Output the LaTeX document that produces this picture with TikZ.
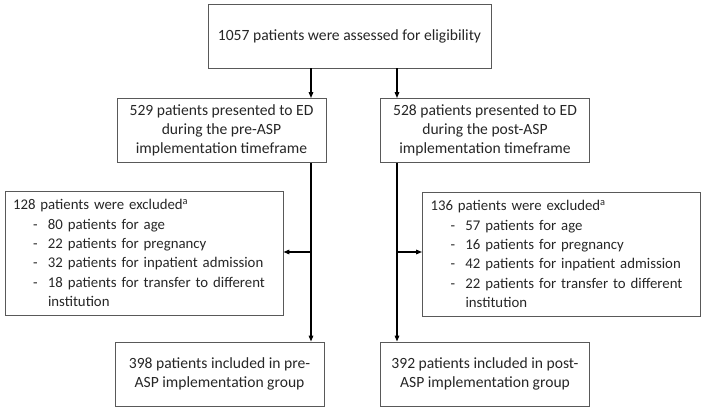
\documentclass[tikz,border=0pt]{standalone}
\usepackage{fontspec}
\setmainfont{Carlito}
\usetikzlibrary{arrows.meta}

\tikzset{
  box/.style={draw=black!65, line width=0.8pt, align=center, inner sep=2pt,
    font=\fontsize{15.6}{19}\selectfont, text=black!85},
  stagebox/.style={box, minimum width=209pt, minimum height=64pt},
  exclbox/.style={box, align=left, text width=262pt, inner xsep=8pt, minimum height=124pt,
    font=\fontsize{14.8}{19.3}\selectfont},
  arr/.style={-{Triangle[length=6pt,width=4.5pt]}, line width=1.4pt},
}
\newcommand{\exitem}[1]{\mbox{\hspace*{20pt}\makebox[15pt][l]{-}#1}}

\begin{document}
\begin{tikzpicture}[x=1pt,y=-1pt]
  \useasboundingbox (0,0) rectangle (705,410);

  % boxes
  \node[box, minimum width=283pt, minimum height=64pt] (all) at (349.5,36)
    {1057 patients were assessed for eligibility};
  \node[stagebox] (preED) at (221.5,130.5)
    {529 patients presented to ED\\ during the pre-ASP\\ implementation timeframe};
  \node[stagebox] (postED) at (485,130.5)
    {528 patients presented to ED\\ during the post-ASP\\ implementation timeframe};
  \node[exclbox] (preExcl) at (144,253)
    {128 patients were excluded\textsuperscript{a}\\
     \exitem{80 patients for age}\\
     \exitem{22 patients for pregnancy}\\
     \exitem{32 patients for inpatient admission}\\
     \exitem{18 patients for transfer to different}\\
     \mbox{\hspace*{35pt}institution}};
  \node[exclbox] (postExcl) at (561.5,254)
    {136 patients were excluded\textsuperscript{a}\\
     \exitem{57 patients for age}\\
     \exitem{16 patients for pregnancy}\\
     \exitem{42 patients for inpatient admission}\\
     \exitem{22 patients for transfer to different}\\
     \mbox{\hspace*{35pt}institution}};
  \node[stagebox] (preIn) at (219.5,374)
    {398 patients included in pre-\\ ASP implementation group};
  \node[stagebox] (postIn) at (485,374)
    {392 patients included in post-\\ ASP implementation group};

  % connectors
  \coordinate (preJ) at (311,252);
  \coordinate (postJ) at (397,252);
  \draw[arr] (preJ |- all.south) -- (preJ |- preED.north);
  \draw[arr] (postJ |- all.south) -- (postJ |- postED.north);
  \draw[arr] (preJ |- preED.south) -- (preJ |- preIn.north);
  \draw[arr] (postJ |- postED.south) -- (postJ |- postIn.north);
  \draw[arr] (preJ) -- (preJ -| preExcl.east);
  \draw[arr] (postJ) -- (postJ -| postExcl.west);
\end{tikzpicture}
\end{document}
